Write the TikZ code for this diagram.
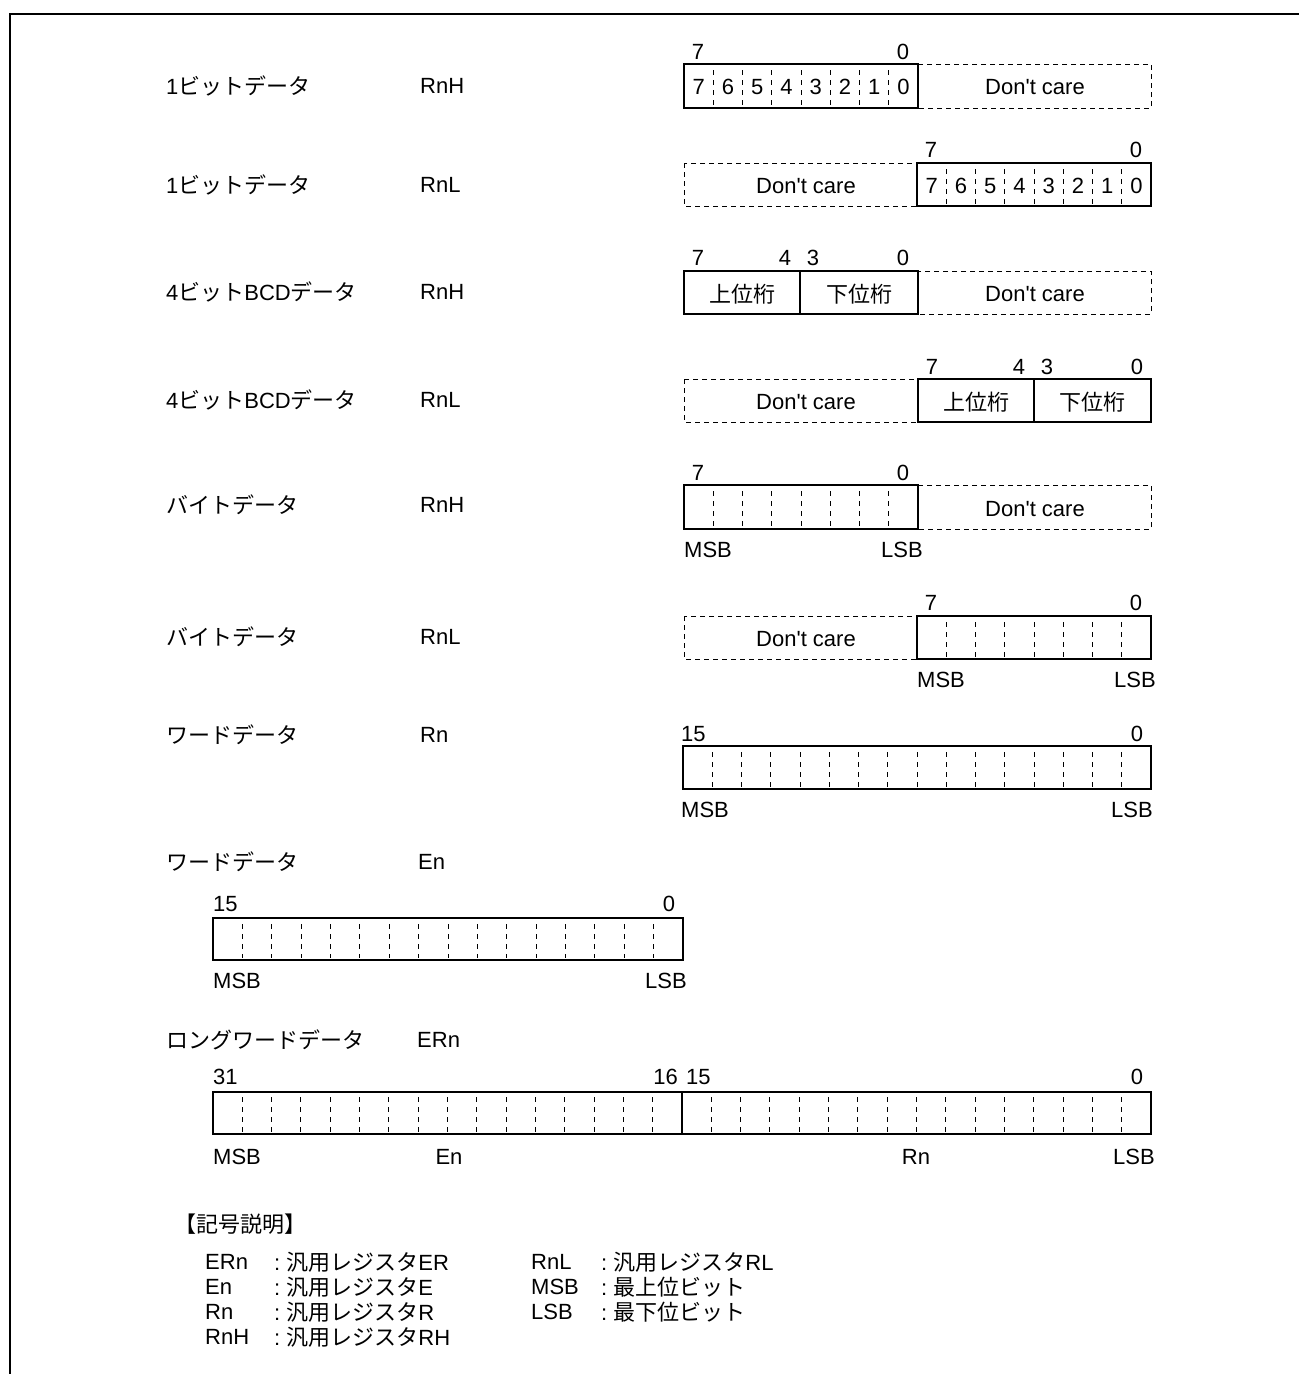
\documentclass[tikz,border=0pt]{standalone}
\usepackage{fontspec}
\setmainfont{Liberation Sans}
\newfontfamily\cjkfont{Noto Sans CJK JP}
\newcommand\jp[1]{{\cjkfont #1}}
\newcommand\dontcare{Don\textquotesingle t care}

\begin{document}
\begin{tikzpicture}[x=1pt,y=-1pt,line join=miter,
  every node/.style={inner sep=0pt,font=\fontsize{22}{26}\selectfont},
  regbox/.style={line width=2.4pt},
  dcbox/.style={line width=0.9pt,dash pattern=on 5pt off 4pt},
  bitsep/.style={line width=0.9pt,dash pattern=on 5pt off 5pt},
  legend/.style={anchor=west,font=\fontsize{22}{26}\selectfont}]
  \def\b{29.25}
  \useasboundingbox (0,0) rectangle (1299,1374);
  \draw[line width=2.8pt] (10,1380) -- (10,14) -- (1305,14);
  % 1bit RnH
  \node[anchor=west] (l1) at (166,86) {1\jp{ビットデータ}};
  \node[anchor=west] (r1) at (420,86) {RnH};
  \draw[dcbox] (918,64) rectangle (1151,108);
  \draw[regbox] (684,64) rectangle (918,108);
  \foreach \i in {1,...,7} \draw[bitsep] ({684+\i*\b},70) -- ({684+\i*\b},106);
  \foreach \i in {0,...,7}
    \node (a\i) at ({684+(\i+0.5)*\b},87) {\pgfmathparse{int(7-\i)}\pgfmathresult};
  \node (h1) at (698,52) {7};
  \node (t1) at (903,52) {0};
  \node (dc1) at (1035,87) {\dontcare};
  % 1bit RnL
  \node[anchor=west] (l2) at (166,185) {1\jp{ビットデータ}};
  \node[anchor=west] (r2) at (420,185) {RnL};
  \draw[dcbox] (684,163) rectangle (917,206);
  \draw[regbox] (917,163) rectangle (1151,206);
  \foreach \i in {1,...,7} \draw[bitsep] ({917+\i*\b},169) -- ({917+\i*\b},204);
  \foreach \i in {0,...,7}
    \node (b\i) at ({917+(\i+0.5)*\b},186) {\pgfmathparse{int(7-\i)}\pgfmathresult};
  \node (h2) at (931,150) {7};
  \node (t2) at (1136,150) {0};
  \node (dc2) at (806,186) {\dontcare};
  % 4bit BCD RnH
  \node[anchor=west] (l3) at (166,292) {4\jp{ビット}BCD\jp{データ}};
  \node[anchor=west] (r3) at (420,292) {RnH};
  \draw[dcbox] (918,271) rectangle (1151,314);
  \draw[regbox] (684,271) rectangle (918,314);
  \draw[line width=1.2pt] (800,271) -- (800,314);
  \node (u3) at (742,294) {\jp{上位桁}};
  \node (d3) at (859,294) {\jp{下位桁}};
  \node (h3) at (698,258) {7};
  \node (m3) at (785,258) {4};
  \node (n3) at (813,258) {3};
  \node (t3) at (903,258) {0};
  \node (dc3) at (1035,294) {\dontcare};
  % 4bit BCD RnL
  \node[anchor=west] (l4) at (166,400) {4\jp{ビット}BCD\jp{データ}};
  \node[anchor=west] (r4) at (420,400) {RnL};
  \draw[dcbox] (684,379) rectangle (918,422);
  \draw[regbox] (918,379) rectangle (1151,422);
  \draw[line width=1.2pt] (1034,379) -- (1034,422);
  \node (u4) at (976,402) {\jp{上位桁}};
  \node (d4) at (1092,402) {\jp{下位桁}};
  \node (h4) at (932,367) {7};
  \node (m4) at (1019,367) {4};
  \node (n4) at (1047,367) {3};
  \node (t4) at (1137,367) {0};
  \node (dc4) at (806,402) {\dontcare};
  % byte RnH
  \node[anchor=west] (l5) at (166,505) {\jp{バイトデータ}};
  \node[anchor=west] (r5) at (420,505) {RnH};
  \draw[dcbox] (918,485) rectangle (1151,529);
  \draw[regbox] (684,485) rectangle (918,529);
  \foreach \i in {1,...,7} \draw[bitsep] ({684+\i*\b},491) -- ({684+\i*\b},527);
  \node (h5) at (698,473) {7};
  \node (t5) at (903,473) {0};
  \node[anchor=west] (ms5) at (684,550) {MSB};
  \node[anchor=east] (ls5) at (923,550) {LSB};
  \node (dc5) at (1035,509) {\dontcare};
  % byte RnL
  \node[anchor=west] (l6) at (166,637) {\jp{バイトデータ}};
  \node[anchor=west] (r6) at (420,637) {RnL};
  \draw[dcbox] (684,616) rectangle (917,659);
  \draw[regbox] (917,616) rectangle (1151,659);
  \foreach \i in {1,...,7} \draw[bitsep] ({917+\i*\b},622) -- ({917+\i*\b},657);
  \node (h6) at (931,603) {7};
  \node (t6) at (1136,603) {0};
  \node[anchor=west] (ms6) at (917,680) {MSB};
  \node[anchor=east] (ls6) at (1156,680) {LSB};
  \node (dc6) at (806,639) {\dontcare};
  % word Rn
  \node[anchor=west] (l7) at (166,735) {\jp{ワードデータ}};
  \node[anchor=west] (r7) at (420,735) {Rn};
  \draw[regbox] (683,746) rectangle (1151,789);
  \foreach \i in {1,...,15} \draw[bitsep] ({683+\i*\b},752) -- ({683+\i*\b},787);
  \node[anchor=west] (h7) at (681,734) {15};
  \node (t7) at (1137,734) {0};
  \node[anchor=west] (ms7) at (681,810) {MSB};
  \node[anchor=east] (ls7) at (1153,810) {LSB};
  % word En
  \node[anchor=west] (l8) at (166,862) {\jp{ワードデータ}};
  \node[anchor=west] (r8) at (418,862) {En};
  \draw[regbox] (213,918) rectangle (683,960);
  \foreach \i in {1,...,15} \draw[bitsep] ({213+\i*29.375},924) -- ({213+\i*29.375},958);
  \node[anchor=west] (h8) at (213,904) {15};
  \node (t8) at (669,904) {0};
  \node[anchor=west] (ms8) at (213,981) {MSB};
  \node[anchor=east] (ls8) at (687,981) {LSB};
  % longword ERn
  \node[anchor=west] (l9) at (166,1040) {\jp{ロングワードデータ}};
  \node[anchor=west] (r9) at (417,1040) {ERn};
  \draw[regbox] (213,1092) rectangle (1151,1134);
  \draw[line width=1.8pt] (682,1092) -- (682,1134);
  \foreach \i in {1,...,15,17,18,...,31}
    \draw[bitsep] ({213+\i*29.31},1097) -- ({213+\i*29.31},1132);
  \node[anchor=west] (h9) at (213,1077) {31};
  \node[anchor=east] (p9) at (678,1077) {16};
  \node[anchor=west] (q9) at (686,1077) {15};
  \node (t9) at (1137,1077) {0};
  \node[anchor=west] (ms9) at (213,1157) {MSB};
  \node (en9) at (449,1157) {En};
  \node (rn9) at (916,1157) {Rn};
  \node[anchor=east] (ls9) at (1155,1157) {LSB};
  % legend
  \node[legend] (key) at (174,1224) {\jp{【記号説明】}};
  \node[legend] (k1) at (205,1262) {ERn};
  \node[legend] (v1) at (274,1262) {:\ \jp{汎用レジスタ}ER};
  \node[legend] (k2) at (205,1287) {En};
  \node[legend] (v2) at (274,1287) {:\ \jp{汎用レジスタ}E};
  \node[legend] (k3) at (205,1312) {Rn};
  \node[legend] (v3) at (274,1312) {:\ \jp{汎用レジスタ}R};
  \node[legend] (k4) at (205,1337) {RnH};
  \node[legend] (v4) at (274,1337) {:\ \jp{汎用レジスタ}RH};
  \node[legend] (k5) at (531,1262) {RnL};
  \node[legend] (v5) at (601,1262) {:\ \jp{汎用レジスタ}RL};
  \node[legend] (k6) at (531,1287) {MSB};
  \node[legend] (v6) at (601,1287) {:\ \jp{最上位ビット}};
  \node[legend] (k7) at (531,1312) {LSB};
  \node[legend] (v7) at (601,1312) {:\ \jp{最下位ビット}};
\end{tikzpicture}
\end{document}
